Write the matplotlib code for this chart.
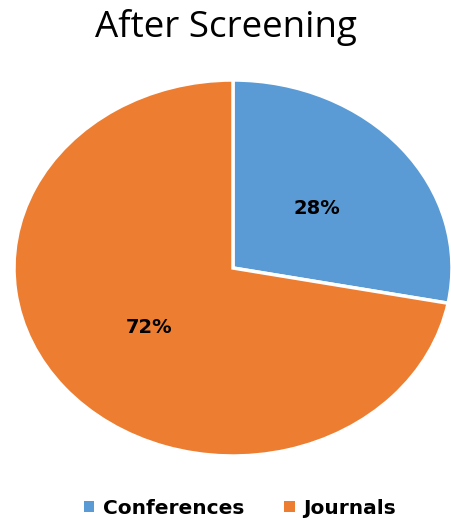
import matplotlib
matplotlib.use("Agg")
import matplotlib.pyplot as plt
from matplotlib.patches import Patch

plt.rcParams['font.family'] = ['Open Sans', 'DejaVu Sans']

categories = ['Conferences', 'Journals']
shares = [28, 72]
colors = ['#5B9BD5', '#ED7D31']
title = 'After Screening'

fig = plt.figure(figsize=(4.52, 5.21), dpi=100)
# pie area is stretched wider than tall in the reference
ax = fig.add_axes([14 / 452, 1 - 456 / 521, 438 / 452, 376 / 521])
wedges, texts, autotexts = ax.pie(
    shares, colors=colors, startangle=90, counterclock=False,
    autopct='%d%%', pctdistance=0.5,
    wedgeprops=dict(edgecolor='white', linewidth=2.5),
    textprops=dict(fontsize=14, fontweight='bold', color='black',
                   family='DejaVu Sans'))
ax.set_aspect('auto')
ax.set_xlim(-1, 1)
ax.set_ylim(-1, 1)

fig.text(0.5, 1 - 27 / 521, title, ha='center', va='center', fontsize=26.5)

handles = [Patch(facecolor=c, edgecolor='none') for c in colors]
fig.legend(handles, categories, loc='center', bbox_to_anchor=(240 / 452, 1 - 508 / 521),
           ncol=2, frameon=False,
           prop=dict(size=14.5, weight='bold', family='DejaVu Sans'),
           handlelength=0.5, handleheight=0.5, handletextpad=0.45, columnspacing=2.0)

fig.savefig('out.png', dpi=100)
